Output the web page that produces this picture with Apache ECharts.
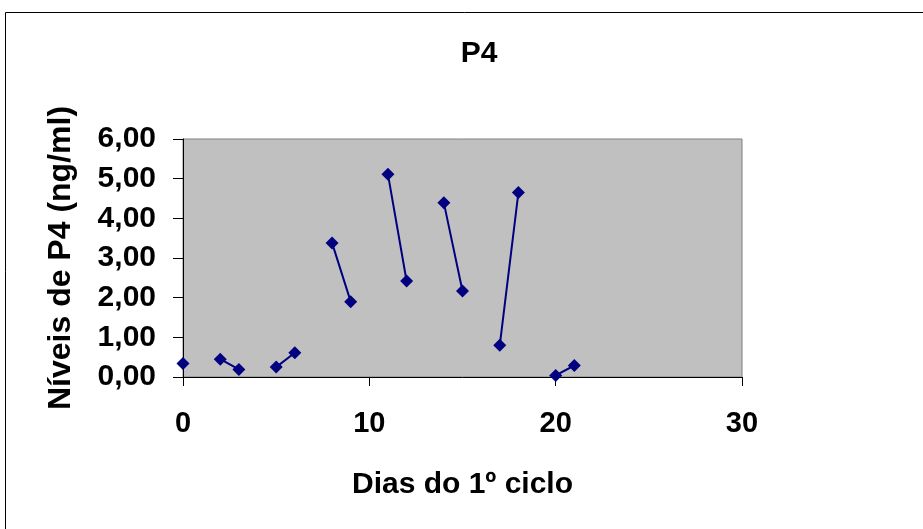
<!DOCTYPE html>
<html>
<head>
<meta charset="utf-8">
<script src="https://cdn.jsdelivr.net/npm/echarts@6/dist/echarts.min.js"></script>
<style>
html,body{margin:0;padding:0;background:#fff;}
#c{width:923px;height:529px;}
</style>
</head>
<body>
<div id="c"></div>
<script>
var days = [0, 2, 3, 5, 6, 8, 9, 11, 12, 14, 15, 17, 18, 20, 21];
var p4 = [0.34, 0.45, 0.19, 0.25, 0.61, 3.38, 1.90, 5.11, 2.42, 4.39, 2.17, 0.80, 4.65, 0.04, 0.29];
// segment id: points with the same id are joined
var segment = [0, 1, 1, 2, 2, 3, 3, 4, 4, 5, 5, 6, 6, 7, 7];

var data = [];
for (var i = 0; i < days.length; i++) {
  if (i > 0 && segment[i] !== segment[i - 1]) {
    data.push([(days[i] + days[i - 1]) / 2, '-']);
  }
  data.push([days[i], p4[i]]);
}

var FONT = '"Liberation Sans", Arial, sans-serif';
var chart = echarts.init(document.getElementById('c'), null, {renderer: 'canvas'});
chart.setOption({
  animation: false,
  backgroundColor: '#ffffff',
  title: {
    text: 'P4',
    left: 474, textAlign: 'center',
    top: 34,
    textStyle: {fontFamily: FONT, fontWeight: 'bold', fontSize: 30, color: '#000'}
  },
  graphic: [{
    type: 'rect',
    shape: {x: 5.5, y: 12.5, width: 1000, height: 1000},
    style: {fill: 'none', stroke: '#000', lineWidth: 1},
    silent: true
  }],
  grid: {
    left: 183, right: 181, top: 139, bottom: 152,
    show: true, backgroundColor: '#C0C0C0', borderColor: '#808080', borderWidth: 1
  },
  xAxis: {
    type: 'value', min: 0, max: 30, interval: 10,
    name: 'Dias do 1º ciclo', nameLocation: 'middle', nameGap: 93,
    nameTextStyle: {fontFamily: FONT, fontWeight: 'bold', fontSize: 30, color: '#000'},
    axisLine: {show: true, onZero: false, lineStyle: {color: '#000', width: 1}},
    axisTick: {show: true, inside: false, length: 9, lineStyle: {color: '#000'}},
    axisLabel: {margin: 32, fontFamily: FONT, fontWeight: 'bold', fontSize: 29, color: '#000'},
    splitLine: {show: false}
  },
  yAxis: {
    type: 'value', min: 0, max: 6, interval: 1,
    name: 'Níveis de P4 (ng/ml)', nameLocation: 'middle', nameGap: 106, nameRotate: 90,
    nameTextStyle: {fontFamily: FONT, fontWeight: 'bold', fontSize: 32, color: '#000'},
    axisLine: {show: true, lineStyle: {color: '#000', width: 1}},
    axisTick: {show: true, inside: false, length: 10, lineStyle: {color: '#000'}},
    axisLabel: {
      margin: 27, fontFamily: FONT, fontWeight: 'bold', fontSize: 30, color: '#000',
      formatter: function (v) { return v.toFixed(2).replace('.', ','); }
    },
    splitLine: {show: false}
  },
  series: [{
    type: 'line',
    data: data,
    connectNulls: false,
    symbol: 'diamond',
    symbolSize: 13,
    showAllSymbol: true,
    lineStyle: {color: '#000080', width: 2},
    itemStyle: {color: '#000080'}
  }]
});
</script>
</body>
</html>
